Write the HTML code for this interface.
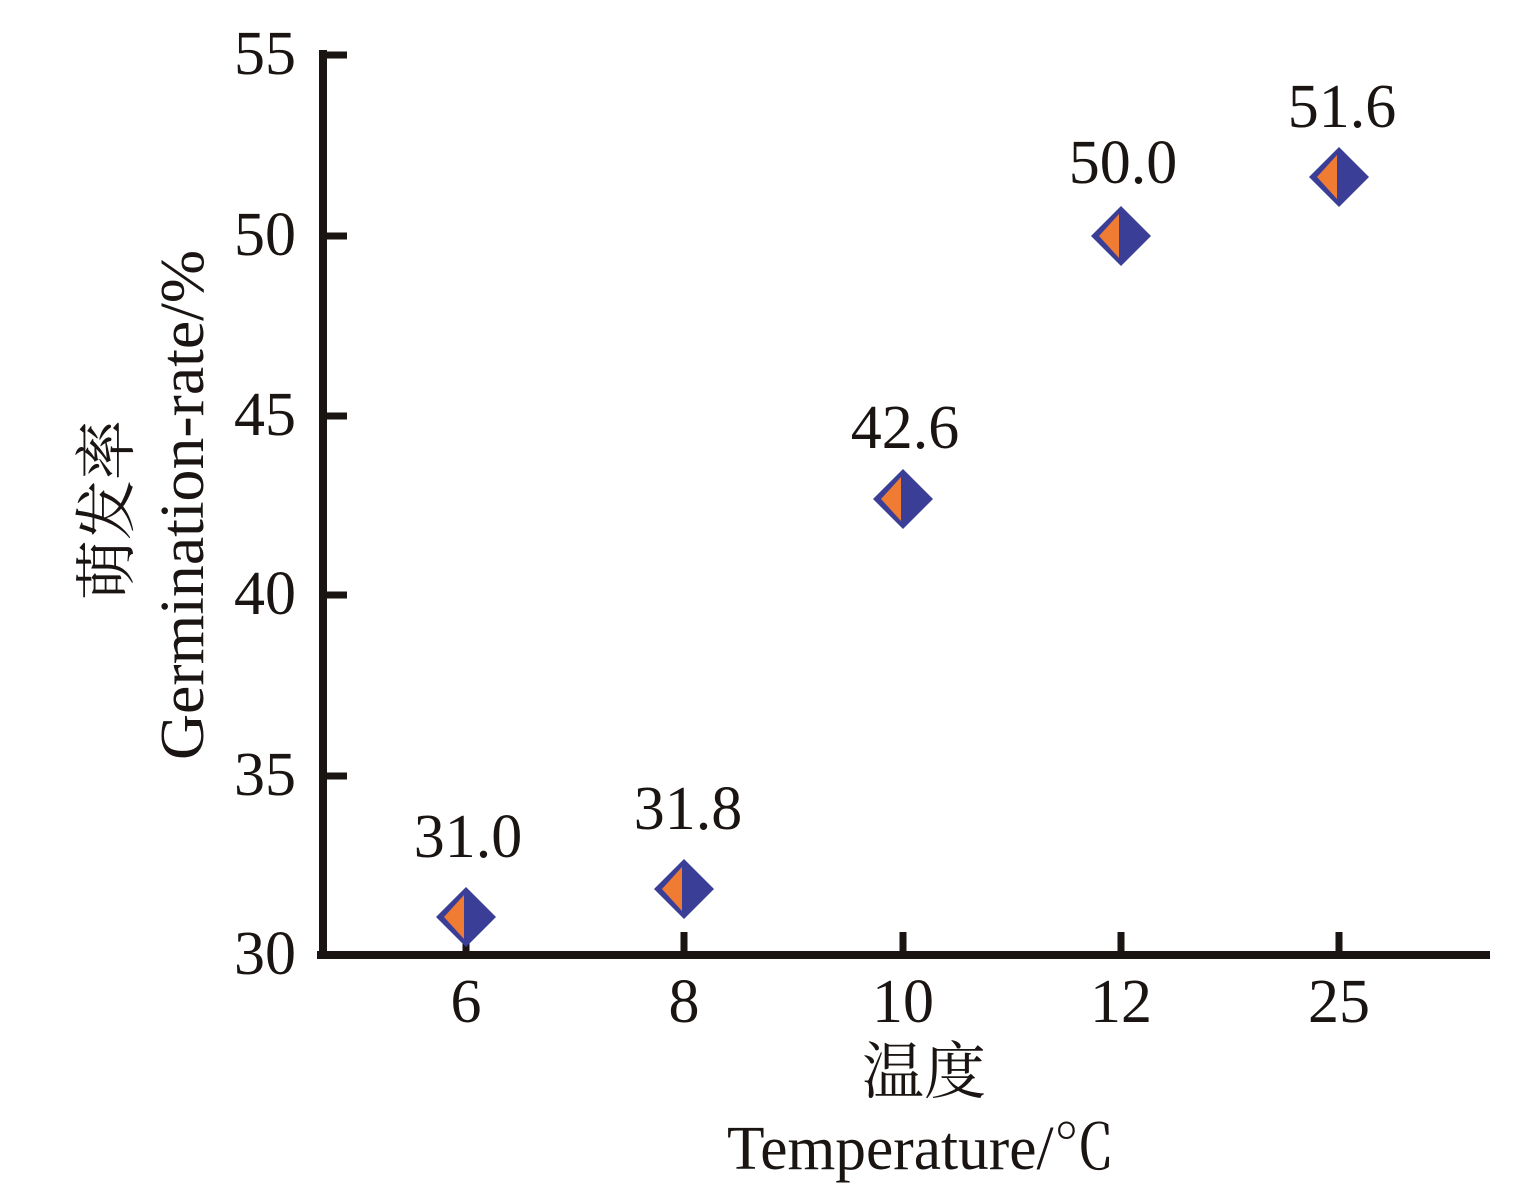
<!DOCTYPE html><html><head><style>body{margin:0;background:#fff}</style></head><body>
<svg width="1529" height="1192" xmlns="http://www.w3.org/2000/svg" font-family="Liberation Serif, 'Noto Serif CJK SC', serif" fill="#1a1512">
<defs><g id="m"><polygon points="0,-30 30,0 0,30 -30,0" fill="#3b3e96"/><polygon points="-2,-22 -2,22 -22,0" fill="#f07b32"/></g></defs>
<line x1="323" y1="50" x2="323" y2="959" stroke="#1a1512" stroke-width="8"/>
<line x1="317" y1="955" x2="1490" y2="955" stroke="#1a1512" stroke-width="8"/>
<g stroke="#1a1512" stroke-width="7">
<line x1="323" y1="55" x2="347" y2="55"/><line x1="323" y1="236" x2="347" y2="236"/><line x1="323" y1="416" x2="347" y2="416"/><line x1="323" y1="595" x2="347" y2="595"/><line x1="323" y1="776" x2="347" y2="776"/>
<line x1="466" y1="932" x2="466" y2="959"/><line x1="684" y1="932" x2="684" y2="959"/><line x1="903" y1="932" x2="903" y2="959"/><line x1="1121" y1="932" x2="1121" y2="959"/><line x1="1339" y1="932" x2="1339" y2="959"/>
</g>
<g font-size="62" text-anchor="end">
<text x="296" y="74">55</text><text x="296" y="255">50</text><text x="296" y="435">45</text><text x="296" y="614">40</text><text x="296" y="795">35</text><text x="296" y="974">30</text></g>
<g font-size="62" text-anchor="middle">
<text x="466" y="1022">6</text><text x="684" y="1022">8</text><text x="903" y="1022">10</text><text x="1121" y="1022">12</text><text x="1339" y="1022">25</text>
<text x="468" y="857">31.0</text><text x="688" y="829">31.8</text><text x="905" y="448">42.6</text><text x="1123" y="183">50.0</text><text x="1342" y="127">51.6</text>
<text x="924" y="1093">温度</text></g>
<text x="727" y="1169" font-size="62" textLength="388" lengthAdjust="spacingAndGlyphs">Temperature/℃</text>
<text transform="translate(128,600) rotate(-90)" font-size="62" textLength="180" lengthAdjust="spacingAndGlyphs">萌发率</text>
<text transform="translate(203,760) rotate(-90)" font-size="62" textLength="510" lengthAdjust="spacingAndGlyphs">Germination-rate/%</text>
<use href="#m" x="466" y="917"/><use href="#m" x="684" y="889"/><use href="#m" x="903" y="499"/><use href="#m" x="1121" y="236"/><use href="#m" x="1339" y="177"/>
</svg></body></html>
